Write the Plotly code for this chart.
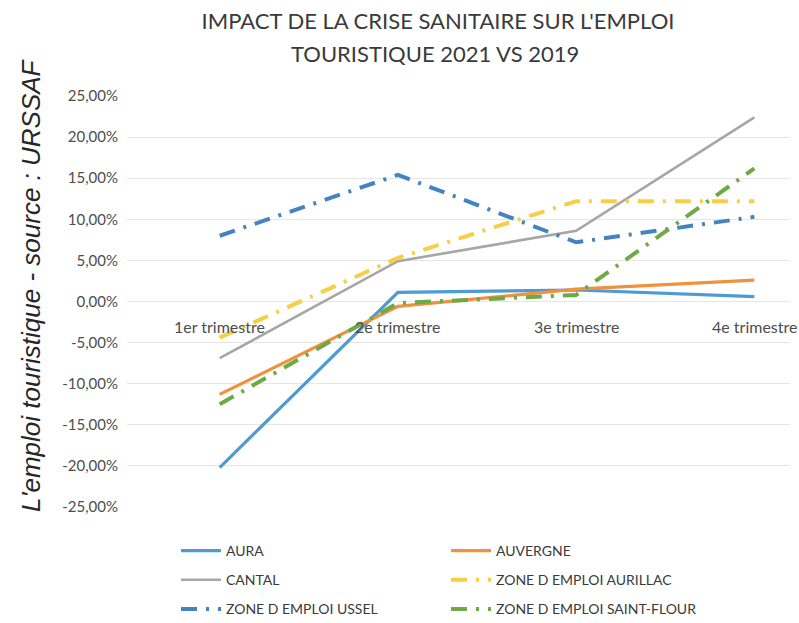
import plotly.graph_objects as go

# Quarters and year-on-year change in tourism employment (2021 vs 2019), in %
quarters = ["1er trimestre", "2e trimestre", "3e trimestre", "4e trimestre"]

aura = [-20.2, 1.1, 1.4, 0.6]
auvergne = [-11.3, -0.6, 1.5, 2.6]
cantal = [-6.9, 4.9, 8.6, 22.4]
ze_aurillac = [-4.4, 5.3, 12.2, 12.2]
ze_ussel = [8.0, 15.4, 7.2, 10.3]
ze_saint_flour = [-12.5, -0.2, 0.8, 16.2]

y_ticks = [25, 20, 15, 10, 5, 0, -5, -10, -15, -20, -25]
y_ticktext = [f"{v:.2f}".replace(".", ",") + "%" for v in y_ticks]

W, H = 799, 623
M_L, M_R, M_T, M_B = 127, 9, 96, 116
PW, PH = W - M_L - M_R, H - M_T - M_B

FONT = "Lato"
TXT = "#4D4D4D"
TITLE_COL = "#3A3A3A"
dashdot = "16px,9px,3px,9px"

series = [
    # name, values, colour, width, dash, legend
    ("AURA", aura, "#4E9BD3", 3.2, "solid", "legend"),
    ("AUVERGNE", auvergne, "#F0913D", 3.2, "solid", "legend2"),
    ("CANTAL", cantal, "#A6A6A6", 2.6, "solid", "legend"),
    ("ZONE D EMPLOI AURILLAC", ze_aurillac, "#F6CF45", 4, dashdot, "legend2"),
    ("ZONE D EMPLOI USSEL", ze_ussel, "#4383BF", 4, dashdot, "legend"),
    ("ZONE D EMPLOI SAINT-FLOUR", ze_saint_flour, "#6DAA45", 4, dashdot, "legend2"),
]

fig = go.Figure()
for name, vals, col, w, dash, leg in series:
    fig.add_trace(go.Scatter(
        x=quarters, y=vals, name=name, mode="lines",
        line=dict(color=col, width=w, dash=dash),
        legend=leg, legendgroup=name,
    ))

legend_style = dict(
    xref="container", yref="container",
    yanchor="top", xanchor="left",
    font=dict(family=FONT, size=14, color=TITLE_COL),
    bgcolor="rgba(0,0,0,0)", tracegroupgap=8,
    itemwidth=40,
)

# category labels sit just under the 0 % line, as on a crossing category axis
cat_labels = [dict(
    text=q, x=q, y=0, xref="x", yref="y",
    yshift=-25, showarrow=False,
    font=dict(family=FONT, size=16, color=TXT),
) for q in quarters]

fig.update_layout(
    width=W, height=H,
    margin=dict(l=M_L, r=M_R, t=M_T, b=M_B, autoexpand=False),
    paper_bgcolor="white", plot_bgcolor="white",
    font=dict(family=FONT, color=TXT),
    title=dict(
        text="IMPACT DE LA CRISE SANITAIRE SUR L'EMPLOI",
        x=438 / W, xanchor="center", xref="container",
        y=1 - 21 / H, yanchor="middle", yref="container",
        font=dict(family=FONT, size=22, color=TITLE_COL),
    ),
    xaxis=dict(
        type="category", range=[-0.52, 3.2],
        showgrid=False, showline=False, zeroline=False,
        ticks="", showticklabels=False,
    ),
    yaxis=dict(
        range=[-25, 25], tickvals=y_ticks, ticktext=y_ticktext,
        showgrid=True, gridcolor="#E6E6E6", gridwidth=1,
        zeroline=False, showline=False, ticks="", ticklabelstandoff=8,
        tickfont=dict(family=FONT, size=15, color=TXT),
    ),
    legend=dict(legend_style, x=176 / W, y=1 - 535 / H),
    legend2=dict(legend_style, x=446 / W, y=1 - 535 / H),
    annotations=cat_labels + [
        dict(
            text="TOURISTIQUE 2021 VS 2019",
            xref="paper", yref="paper",
            x=(435 - M_L) / PW, y=(H - M_B - 54) / PH,
            xanchor="center", yanchor="middle", showarrow=False,
            font=dict(family=FONT, size=22, color=TITLE_COL),
        ),
        dict(
            text="L'emploi touristique - source : URSSAF",
            xref="paper", yref="paper",
            x=(31 - M_L) / PW, y=(H - M_B - 285) / PH,
            xanchor="center", yanchor="middle", textangle=-90, showarrow=False,
            font=dict(family="Liberation Sans", size=26, color="#262626", style="italic"),
        ),
    ],
)

fig.write_html("out.html")
